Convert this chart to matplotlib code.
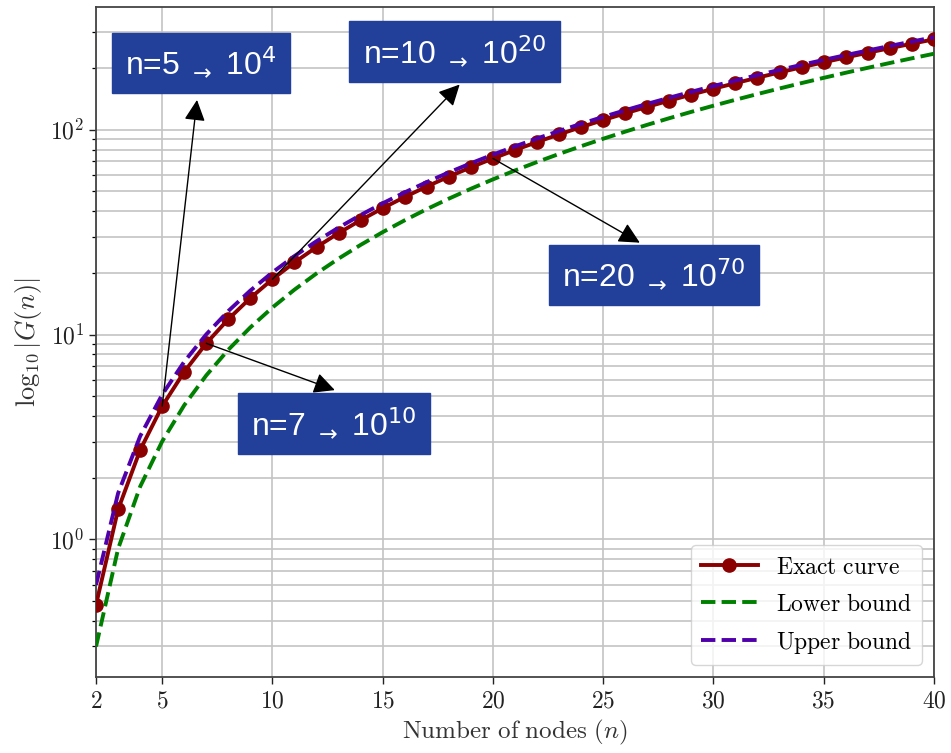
import numpy as np
import matplotlib
matplotlib.use('Agg')
import matplotlib.pyplot as plt
from matplotlib.ticker import FuncFormatter, NullFormatter

# ---------------------------------------------------------------------------
# Data: log10 of the number of graphs G(n) and two bounds, n = 2..40
# ---------------------------------------------------------------------------
N_NODES = list(range(2, 41))

EXACT = [0.48, 1.40, 2.73, 4.47, 6.58, 9.06, 11.89, 15.08, 18.62, 22.50,
         26.72, 31.27, 36.16, 41.38, 46.92, 52.80, 59.00, 65.52, 72.37, 79.54,
         87.03, 94.84, 102.97, 111.42, 120.19, 129.28, 138.68, 148.40, 158.43,
         168.78, 179.45, 190.43, 201.72, 213.33, 225.25, 237.48, 250.02,
         262.88, 276.05]

LOWER = [0.30, 0.90, 1.81, 3.01, 4.52, 6.32, 8.43, 10.84, 13.55, 16.56,
         19.87, 23.48, 27.39, 31.61, 36.12, 40.94, 46.06, 51.48, 57.20, 63.22,
         69.54, 76.16, 83.08, 90.31, 97.83, 105.66, 113.79, 122.22, 130.95,
         139.98, 149.31, 158.94, 168.88, 179.11, 189.65, 200.49, 211.62,
         223.06, 234.80]

UPPER = [0.60, 1.68, 3.19, 5.09, 7.37, 10.02, 13.03, 16.40, 20.11, 24.16,
         28.55, 33.27, 38.33, 43.72, 49.44, 55.49, 61.86, 68.56, 75.58, 82.92,
         90.59, 98.57, 106.88, 115.50, 124.44, 133.70, 143.27, 153.16, 163.37,
         173.89, 184.73, 195.88, 207.35, 219.13, 231.22, 243.62, 256.34,
         269.37, 282.72]

# callouts: node count, label, box centre and arrow tip (axes fraction)
CALLOUT_N = [5, 10, 20, 7]
CALLOUT_TEXT = [r'n=5 $_{\rightarrow}$ 10$^{4}$', r'n=10 $_{\rightarrow}$ 10$^{20}$',
                r'n=20 $_{\rightarrow}$ 10$^{70}$', r'n=7 $_{\rightarrow}$ 10$^{10}$']
CALLOUT_BOX = [(0.125, 0.916), (0.428, 0.933), (0.666, 0.600), (0.284, 0.378)]
CALLOUT_TIP = [(0.1205, 0.861), (0.434, 0.884), (0.649, 0.648), (0.285, 0.428)]

plt.rcParams['mathtext.fontset'] = 'cm'

fig = plt.figure(figsize=(9.51, 7.53), dpi=100)
ax = fig.add_axes([0.101, 0.101, 0.881, 0.890])

ax.plot(N_NODES, EXACT, '-o', color='#8b0000', lw=2.8, markersize=9.5,
        label=r'$\mathrm{Exact\ curve}$', zorder=3)
ax.plot(N_NODES, LOWER, '--', color='#008000', lw=2.8,
        label=r'$\mathrm{Lower\ bound}$', zorder=3)
ax.plot(N_NODES, UPPER, '--', color='#5000aa', lw=2.8,
        label=r'$\mathrm{Upper\ bound}$', zorder=3)

ax.set_yscale('log')
ax.set_xlim(2, 40)
ax.set_xticks([2, 5, 10, 15, 20, 25, 30, 35, 40])
ax.xaxis.set_major_formatter(FuncFormatter(lambda v, p: rf'${v:g}$'))
ax.yaxis.set_major_formatter(
    FuncFormatter(lambda v, p: rf'$10^{{{int(round(np.log10(v)))}}}$'))
ax.yaxis.set_minor_formatter(NullFormatter())
ax.tick_params(labelsize=17, length=5, width=1.0, colors='#222')
ax.tick_params(which='minor', length=3, width=0.9)

ax.set_xlabel(r'$\mathrm{Number\ of\ nodes}\ (n)$', fontsize=18, color='#333')
ax.set_ylabel(r'$\log_{10}|G(n)|$', fontsize=19, color='#333')

ax.set_axisbelow(True)
ax.grid(True, which='major', color='#c4c4c4', lw=1.2)
ax.grid(True, which='minor', axis='y', color='#c4c4c4', lw=1.2)
for sp in ax.spines.values():
    sp.set_color('#444')
    sp.set_linewidth(1.3)

# ---- callouts ----
for n, txt, box, tip in zip(CALLOUT_N, CALLOUT_TEXT, CALLOUT_BOX, CALLOUT_TIP):
    ax.annotate('', xy=tip, xycoords='axes fraction',
                xytext=(n, EXACT[N_NODES.index(n)]), textcoords='data',
                arrowprops=dict(arrowstyle='-|>', color='black', lw=1.0,
                                mutation_scale=32, shrinkA=0, shrinkB=0),
                zorder=5)
    ax.text(box[0], box[1], txt, transform=ax.transAxes,
            ha='center', va='center', fontsize=23, color='white',
            family=['Liberation Sans', 'DejaVu Sans'],
            math_fontfamily='dejavusans',
            bbox=dict(boxstyle='square,pad=0.42', facecolor='#22409a',
                      edgecolor='#22409a'),
            zorder=6)

ax.legend(loc='lower right', fontsize=17, handlelength=2.4,
          labelspacing=0.55, borderaxespad=0.5)

fig.savefig('out.png', dpi=100)
